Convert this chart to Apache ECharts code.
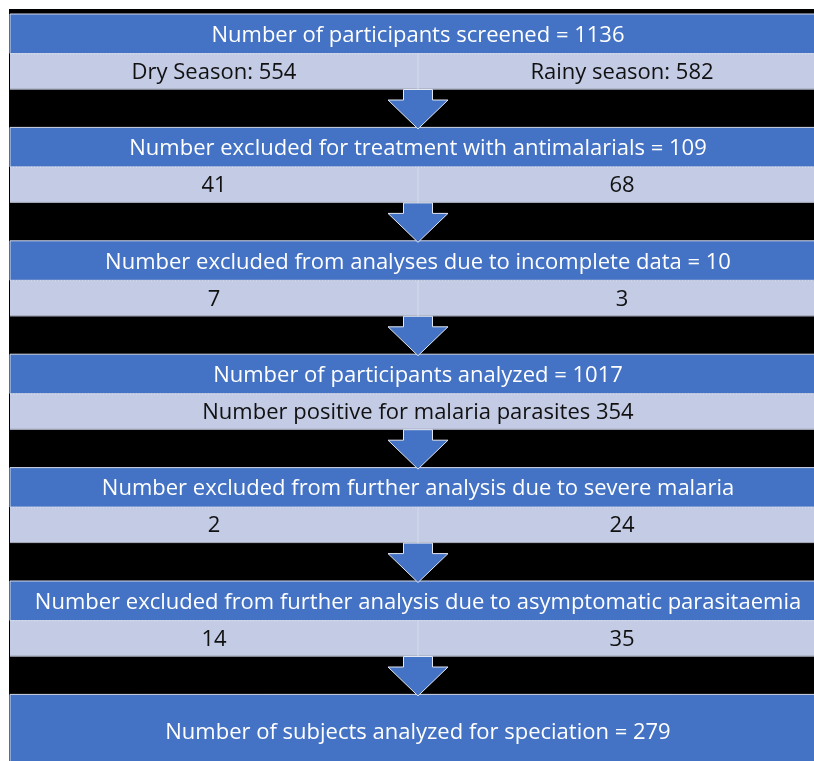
<!DOCTYPE html>
<html>
<head>
<meta charset="utf-8">
<script src="https://cdn.jsdelivr.net/npm/echarts@6/dist/echarts.min.js"></script>
<style>
  html, body { margin: 0; padding: 0; background: #fff; overflow: hidden; }
  #main { width: 840px; height: 820px; }
</style>
</head>
<body>
<div id="main"></div>
<script>
// flow steps (blue rows)
var stages = [
    'Number of participants screened = 1136',
    'Number excluded for treatment with antimalarials = 109',
    'Number excluded from analyses due to incomplete data = 10',
    'Number of participants analyzed = 1017',
    'Number excluded from further analysis due to severe malaria',
    'Number excluded from further analysis due to asymptomatic parasitaemia',
    'Number of subjects analyzed for speciation = 279'
];
// light rows: dry / rainy split, or one merged line
var drySeason = ['Dry Season: 554', '41', '7', null, '2', '14', null];
var rainySeason = ['Rainy season: 582', '68', '3', null, '24', '35', null];
var mergedRow = [null, null, null, 'Number positive for malaria parasites 354', null, null, null];

var BLUE = '#4472C4';
var LIGHT = '#C3CBE5';
var FONT = '"Open Sans", "Noto Sans", sans-serif';
var FS = '22px ';

function renderItem(params, api) {
    var i = params.dataIndex;
    var c = api.coord([1, i]);
    var band = api.size([0, 1])[1];
    var top = c[1] - band / 2;
    var left = params.coordSys.x;
    var width = params.coordSys.width;
    var cx = c[0];
    var children = [];
    var last = i === stages.length - 1;
    var blueH = last ? band : 39.5;

    children.push({
        type: 'rect',
        shape: { x: left, y: top, width: width, height: blueH },
        style: { fill: BLUE, stroke: '#D3D9E8', lineWidth: 1 }
    });
    children.push({
        type: 'text',
        style: {
            text: stages[i], x: cx, y: top + (last ? 38 : 21.5),
            fill: '#fff', font: FS + FONT, align: 'center', verticalAlign: 'middle'
        },
        z2: 5
    });
    if (last) return { type: 'group', children: children };

    var lt = top + 39.5, lh = 36;
    children.push({
        type: 'rect',
        shape: { x: left, y: lt, width: width, height: lh },
        style: { fill: LIGHT }
    });
    children.push({
        type: 'line',
        shape: { x1: left, y1: lt + 0.5, x2: left + width, y2: lt + 0.5 },
        style: { stroke: '#D8DEEE', lineWidth: 1, lineDash: [1, 2] }
    });
    children.push({
        type: 'line',
        shape: { x1: left, y1: lt + lh - 0.5, x2: left + width, y2: lt + lh - 0.5 },
        style: { stroke: '#9EA3B0', lineWidth: 1 }
    });
    var ty = lt + lh / 2 + 1;
    if (mergedRow[i]) {
        children.push({
            type: 'text',
            style: {
                text: mergedRow[i], x: cx, y: ty,
                fill: '#111', font: FS + FONT, align: 'center', verticalAlign: 'middle'
            },
            z2: 5
        });
    } else {
        children.push({
            type: 'line',
            shape: { x1: cx, y1: lt, x2: cx, y2: lt + lh },
            style: { stroke: '#D6DCEC', lineWidth: 1 }
        });
        var pl = api.coord([0.5, i]), pr = api.coord([1.5, i]);
        children.push({
            type: 'text',
            style: {
                text: drySeason[i], x: pl[0], y: ty,
                fill: '#111', font: FS + FONT, align: 'center', verticalAlign: 'middle'
            },
            z2: 5
        });
        children.push({
            type: 'text',
            style: {
                text: rainySeason[i], x: pr[0], y: ty,
                fill: '#111', font: FS + FONT, align: 'center', verticalAlign: 'middle'
            },
            z2: 5
        });
    }
    // down arrow into next step
    var at = lt + lh, hb = top + 86, tip = top + band + 1.5;
    children.push({
        type: 'polygon',
        shape: {
            points: [
                [cx - 14.5, at], [cx + 14.5, at], [cx + 14.5, hb], [cx + 30, hb],
                [cx, tip], [cx - 30, hb], [cx - 14.5, hb]
            ]
        },
        style: { fill: BLUE, stroke: '#E2E7F3', lineWidth: 1 },
        z2: 20
    });
    return { type: 'group', children: children };
}

var chart = echarts.init(document.getElementById('main'), null, { renderer: 'canvas' });
var option = {
    backgroundColor: '#fff',
    animation: false,
    graphic: [{
        type: 'rect', z: -1,
        shape: { x: 9, y: 9, width: 830, height: 811 },
        style: { fill: '#000' }
    }],
    grid: { left: 10, top: 14, width: 816, height: 113.4 * stages.length },
    xAxis: { type: 'value', min: 0, max: 2, show: false },
    yAxis: {
        type: 'category', inverse: true, show: false,
        data: stages.map(function (s, i) { return i; })
    },
    series: [{
        type: 'custom',
        renderItem: renderItem,
        clip: false,
        encode: { x: 0, y: 1 },
        data: stages.map(function (s, i) { return [1, i]; })
    }]
};
chart.setOption(option);
</script>
</body>
</html>
